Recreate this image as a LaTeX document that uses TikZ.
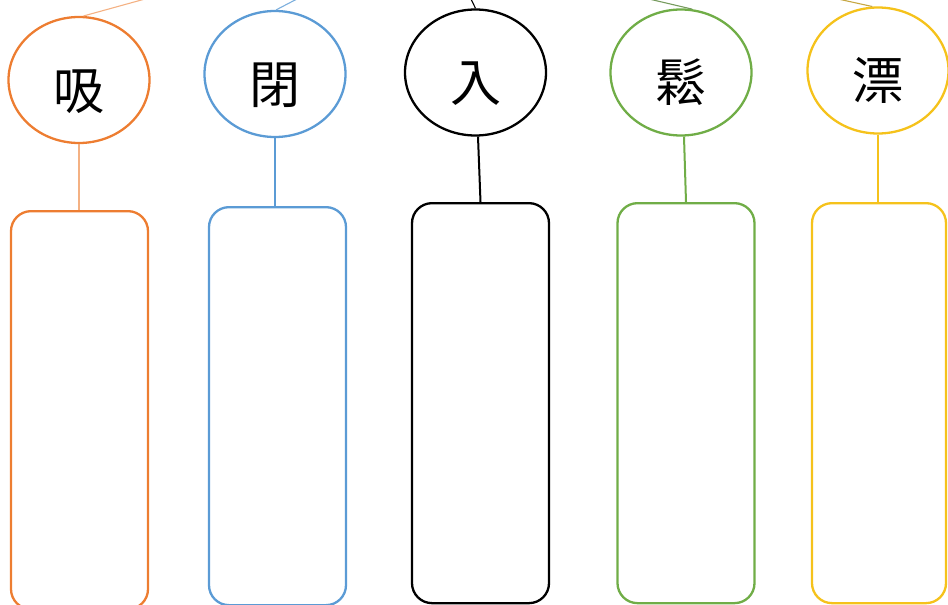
\documentclass[tikz,border=0pt]{standalone}
\usepackage{fontspec}
\usepackage{xcolor}
\usepackage{tikz}
\usetikzlibrary{shapes.geometric}
\newfontfamily\cjk{Noto Sans CJK TC}

\definecolor{orangeC}{HTML}{ED7D31}
\definecolor{blueC}{HTML}{5B9BD5}
\definecolor{greenC}{HTML}{70AD47}
\definecolor{yellowC}{HTML}{F5C21B}

\begin{document}
\begin{tikzpicture}[x=1pt, y=-1pt,
    circ/.style={draw, ellipse, line width=2.3pt, minimum width=141pt, minimum height=126pt,
        inner sep=0pt, font=\cjk\fontsize{51}{51}\selectfont, text height=58pt, text depth=0pt},
    box/.style={draw, rectangle, rounded corners=20pt, line width=2.3pt, minimum width=137pt,
        minimum height=398pt, inner sep=0pt}]
    \useasboundingbox (0, 0) rectangle (948, 605);

    \node[circ, orangeC] at (79, 80) (1C) {\color{black}吸};
    \node[circ, blueC] at (275, 74) (2C) {\color{black}閉};
    \node[circ, black] at (475.5, 72.5) (3C) {入};
    \node[circ, greenC] at (681, 72.5) (4C) {\color{black}鬆};
    \node[circ, yellowC] at (878, 70.5) (5C) {\color{black}漂};

    \node[box, orangeC, anchor=north] at (79.5, 210) (1R) {};
    \node[box, blueC, anchor=north] at (277.5, 206) (2R) {};
    \node[box, black, anchor=north, minimum height=400pt] at (480.5, 202) (3R) {};
    \node[box, greenC, anchor=north, minimum height=400pt] at (686, 202) (4R) {};
    \node[box, yellowC, anchor=north, minimum width=134pt, minimum height=400pt] at (879, 202) (5R) {};

    \coordinate (1T) at (145, -1);
    \coordinate (2T) at (297, -1);
    \coordinate (3T) at (471, -1);
    \coordinate (4T) at (649, -1);
    \coordinate (5T) at (838, -1);

    \draw[orangeC!60, line width=1.1pt] (1C.86) -- (1T);
    \draw[blueC!80, line width=1.1pt] (2C.89) -- (2T);
    \draw[black, line width=1.1pt] (3C.north) -- (3T);
    \draw[greenC!60!gray, line width=1.1pt] (4C.80) -- (4T);
    \draw[yellowC!60!gray, line width=1.1pt] (5C.95) -- (5T);

    \draw[orangeC!60, line width=1.4pt] (1C.south) -- (1R.north -| 1C.south);
    \draw[blueC, line width=2pt] (2C.south) -- (2R.north -| 2C.south);
    \draw[black, line width=2pt] (3C.south) ++(2.5, 0) -- (3R.north);
    \draw[greenC, line width=2pt] (4C.south) ++(3, 0) -- (4R.north);
    \draw[yellowC, line width=2pt] (5C.south) -- (5R.north -| 5C.south);
\end{tikzpicture}
\end{document}
